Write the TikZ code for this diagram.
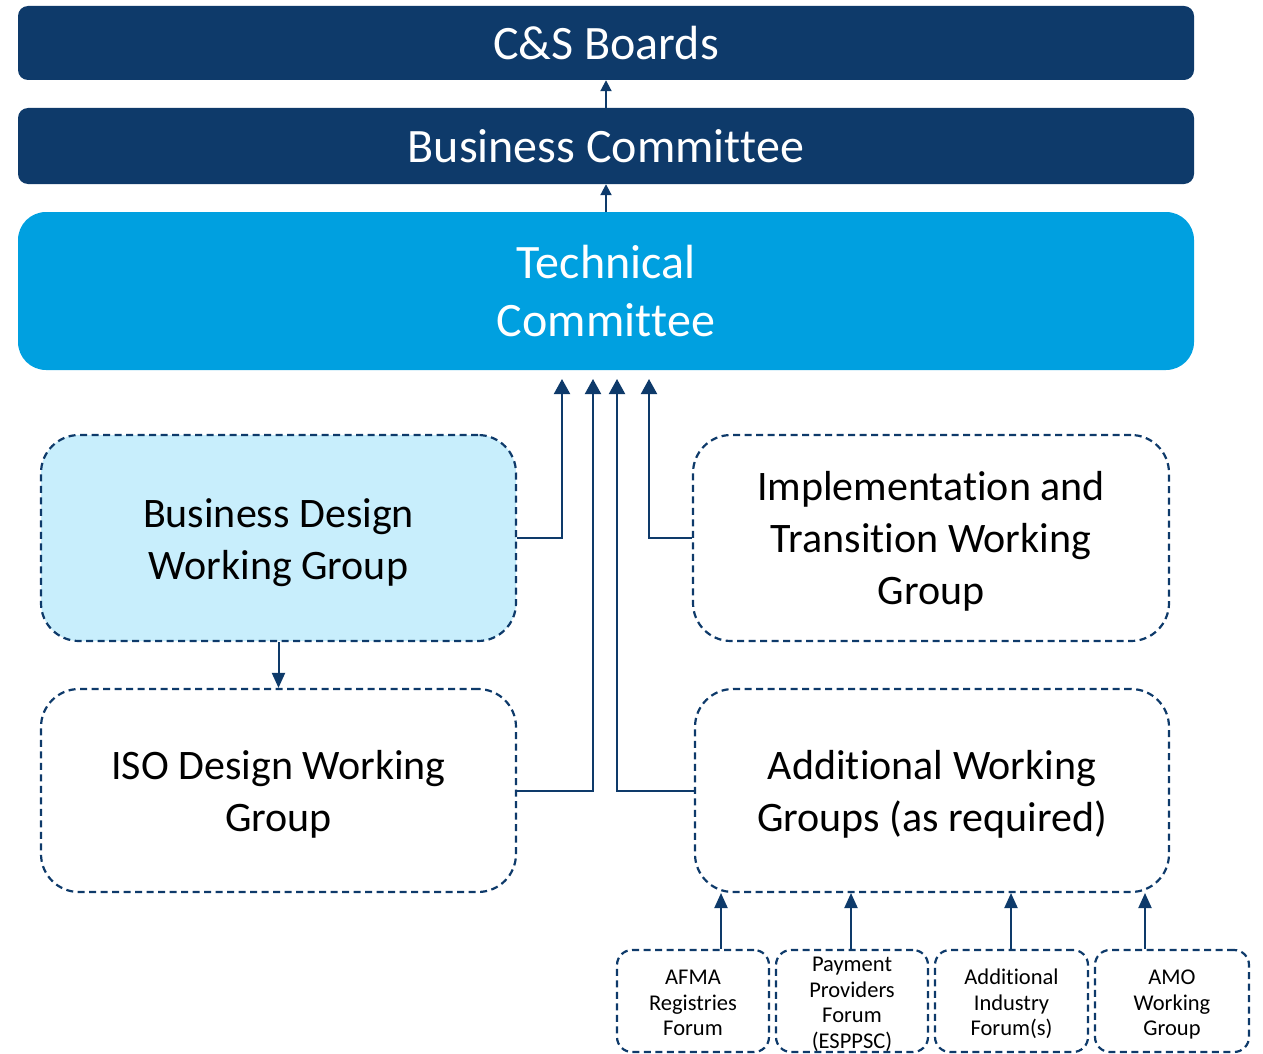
\documentclass[tikz,border=0pt]{standalone}
\usepackage{fontspec}
\setmainfont{Carlito}[RawFeature={-liga;-clig;-calt;-dlig}]
\usetikzlibrary{arrows.meta}
\definecolor{navy}{RGB}{14,58,106}
\definecolor{cyanbox}{RGB}{0,160,224}
\definecolor{lightbox}{RGB}{200,238,252}
\newcommand\dnlines[2]{\raisebox{-#1}[\height][\depth]{\begin{tabular}{@{}c@{}}#2\end{tabular}}}
\begin{document}
\begin{tikzpicture}[x=1pt,y=-1pt,
  topbox/.style={rectangle, rounded corners=10pt, fill=navy, text=white, inner sep=0pt,
    minimum width=1176pt, font=\fontsize{48}{58}\selectfont, align=center},
  wgbox/.style={rectangle, rounded corners=38pt, draw=navy, line width=2.2pt,
    dash pattern=on 7pt off 4.5pt, inner sep=0pt, align=center,
    font=\fontsize{42}{52}\selectfont},
  smallbox/.style={rectangle, rounded corners=15pt, draw=navy, line width=2.2pt,
    dash pattern=on 7pt off 4.5pt, inner sep=0pt, align=center, minimum height=102pt,
    font=\fontsize{22.5}{25.5}\selectfont},
  arr/.style={draw=navy, line width=2pt, -{Triangle[width=16pt,length=15pt]}},
  sarr/.style={draw=navy, line width=2pt, -{Triangle[width=11pt,length=11pt]}},
  marr/.style={draw=navy, line width=2pt, -{Triangle[width=13pt,length=15pt]}}]
\useasboundingbox (0,0) rectangle (1263,1054);

\node[topbox, minimum height=74pt] (cs) at (606,43) {C\&S Boards};
\node[topbox, minimum height=76pt] (bc) at (606,146) {Business Commit\kern0pt tee};
\node[topbox, fill=cyanbox, rounded corners=28pt, minimum height=158pt] (tc) at (606,291) {Technical\\Commit\kern0pt tee};

\node[wgbox, fill=lightbox, minimum width=475pt, minimum height=206pt] (bdwg) at (278.5,538) {\dnlines{5pt}{Business Design\\Working Group}};
\node[wgbox, minimum width=475pt, minimum height=203pt] (iso) at (278.5,790.5) {\dnlines{5pt}{ISO Design Working\\Group}};
\node[wgbox, minimum width=476pt, minimum height=206pt] (impl) at (931,538) {\dnlines{4pt}{Implementation and\\Transition Working\\Group}};
\node[wgbox, minimum width=474pt, minimum height=203pt] (awg) at (932,790.5) {\dnlines{5pt}{Additional Working\\Groups (as required)}};

\node[smallbox, minimum width=152pt] (s1) at (693,1001) {\dnlines{4pt}{AFMA\\Registries\\Forum}};
\node[smallbox, minimum width=152pt] (s2) at (852,1001) {\dnlines{4pt}{Payment\\Providers\\Forum\\(ESPPSC)}};
\node[smallbox, minimum width=153pt] (s3) at (1011.5,1001) {\dnlines{4pt}{Additional\\Industry\\Forum(s)}};
\node[smallbox, minimum width=154pt] (s4) at (1172,1001) {\dnlines{4pt}{AMO\\Working\\Group}};

\draw[sarr] (bc.north) -- (cs.south);
\draw[sarr] (tc.north) -- (bc.south);

\coordinate (t1) at (562,379);
\coordinate (t2) at (593,379);
\coordinate (t3) at (617,379);
\coordinate (t4) at (649,379);
\draw[arr] (bdwg.east) -| (t1);
\draw[arr] (iso.east) -| (t2);
\draw[arr] (awg.west) -| (t3);
\draw[arr] (impl.west) -| (t4);

\draw[marr] (bdwg.south) -- (iso.north);

\coordinate (a1) at (721,893);
\coordinate (a2) at (851,893);
\coordinate (a3) at (1011,893);
\coordinate (a4) at (1145,893);
\draw[marr] (s1.north -| a1) -- (a1);
\draw[marr] (s2.north -| a2) -- (a2);
\draw[marr] (s3.north -| a3) -- (a3);
\draw[marr] (s4.north -| a4) -- (a4);
\end{tikzpicture}
\end{document}
